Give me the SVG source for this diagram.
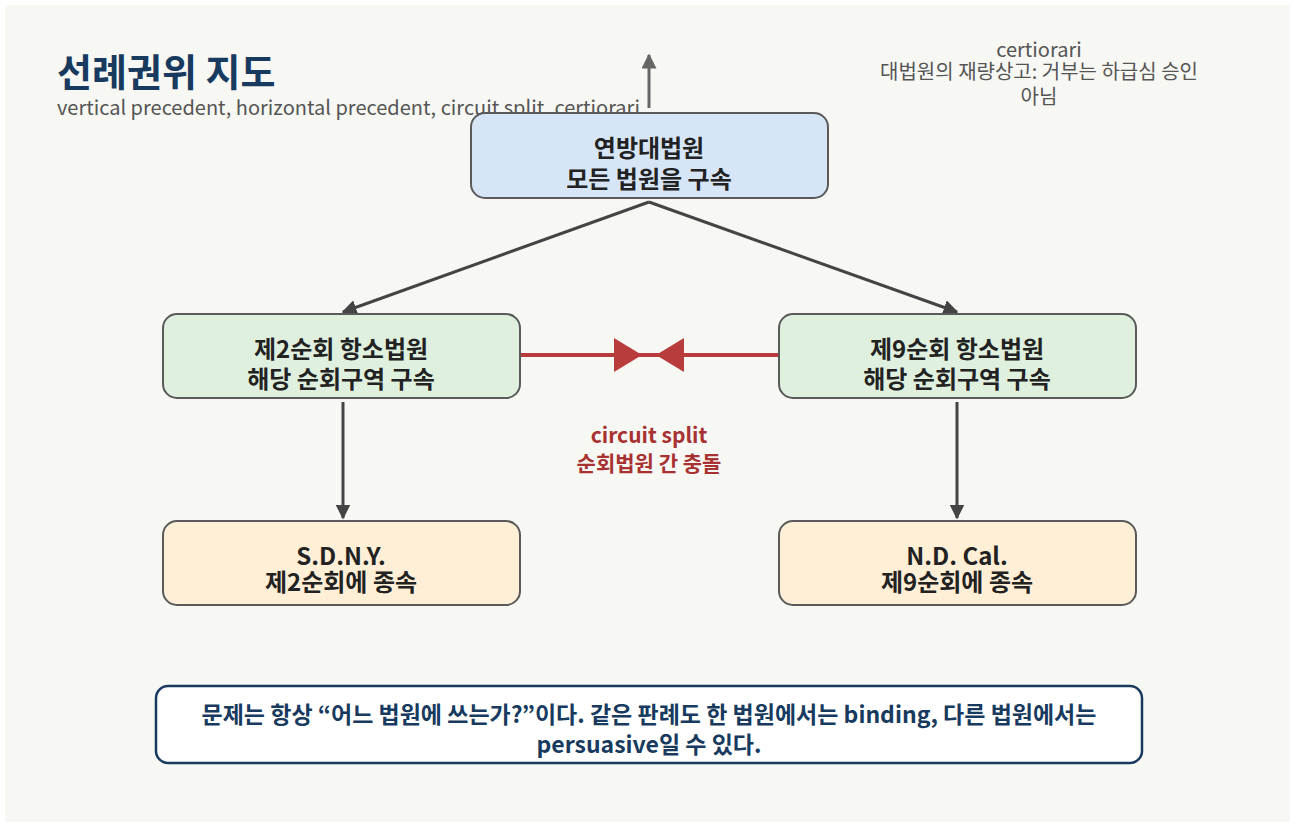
<svg xmlns="http://www.w3.org/2000/svg" width="1294" height="825" viewBox="0 0 1294 825">
<defs>
<style>
.t{font-family:"Noto Sans CJK KR","Noto Sans",sans-serif;}
.nt{font-family:"Noto Sans CJK KR","Noto Sans",sans-serif;font-size:24px;font-weight:700;fill:#222;text-anchor:middle;}
.node{stroke:#5a5a5a;stroke-width:2;}
.conn{stroke:#444;stroke-width:3;fill:none;}
.split{stroke:#b83c3c;stroke-width:4;fill:none;}
</style>
<marker id="ah" viewBox="0 0 10 10" refX="9" refY="5" markerWidth="5" markerHeight="5" orient="auto" markerUnits="strokeWidth">
<path d="M0,0 L10,5 L0,10 Z" fill="#444"/>
</marker>
<marker id="ahg" viewBox="0 0 10 10" refX="9" refY="5" markerWidth="5" markerHeight="5" orient="auto" markerUnits="strokeWidth">
<path d="M0,0 L10,5 L0,10 Z" fill="#666"/>
</marker>
<marker id="ahr" viewBox="0 0 10 10" refX="10" refY="5" markerWidth="7" markerHeight="8.5" orient="auto" markerUnits="strokeWidth" preserveAspectRatio="none">
<path d="M0,0 L10,5 L0,10 Z" fill="#b83c3c"/>
</marker>
</defs>
<rect x="0" y="0" width="1294" height="825" fill="#ffffff"/>
<rect x="5" y="5" width="1285" height="817" fill="#f7f7f3"/>

<g id="title">
<text class="t" x="57" y="86" font-size="38" font-weight="700" fill="#173a5e">선례권위 지도</text>
<text class="t" x="57" y="115" font-size="20" fill="#555">vertical precedent, horizontal precedent, circuit split, certiorari</text>
</g>

<g id="certiorari-note">
<text class="t" x="1039" y="57" font-size="20" fill="#555" text-anchor="middle">certiorari</text>
<text class="t" x="1039" y="79" font-size="20" fill="#555" text-anchor="middle">대법원의 재량상고: 거부는 하급심 승인</text>
<text class="t" x="1039" y="104" font-size="20" fill="#555" text-anchor="middle">아님</text>
</g>

<g id="connectors">
<line x1="649" y1="108" x2="649" y2="55" stroke="#666" stroke-width="3" marker-end="url(#ahg)"/>
<line class="conn" x1="649" y1="202" x2="343" y2="312" marker-end="url(#ah)"/>
<line class="conn" x1="649" y1="202" x2="957" y2="312" marker-end="url(#ah)"/>
<line class="conn" x1="343" y1="402" x2="343" y2="518" marker-end="url(#ah)"/>
<line class="conn" x1="957" y1="402" x2="957" y2="518" marker-end="url(#ah)"/>
<line class="split" x1="520" y1="355" x2="779" y2="355"/>
<line class="split" x1="520" y1="355" x2="642" y2="355" marker-end="url(#ahr)"/>
<line class="split" x1="779" y1="355" x2="656" y2="355" marker-end="url(#ahr)"/>
</g>

<g id="supreme">
<rect class="node" x="471" y="113" width="357" height="85" rx="14" fill="#d6e6f7"/>
<text class="nt" x="649" y="157">연방대법원</text>
<text class="nt" x="649" y="188">모든 법원을 구속</text>
</g>

<g id="circuit2">
<rect class="node" x="163" y="314" width="357" height="84" rx="14" fill="#dff0de"/>
<text class="nt" x="341" y="358">제2순회 항소법원</text>
<text class="nt" x="341" y="388">해당 순회구역 구속</text>
</g>

<g id="circuit9">
<rect class="node" x="779" y="314" width="357" height="84" rx="14" fill="#dff0de"/>
<text class="nt" x="957" y="358">제9순회 항소법원</text>
<text class="nt" x="957" y="388">해당 순회구역 구속</text>
</g>

<g id="split-label">
<text class="t" x="649" y="443" font-size="21" font-weight="700" fill="#a83232" text-anchor="middle">circuit split</text>
<text class="t" x="649" y="471" font-size="21" font-weight="700" fill="#a83232" text-anchor="middle">순회법원 간 충돌</text>
</g>

<g id="sdny">
<rect class="node" x="163" y="521" width="357" height="84" rx="14" fill="#feefd6"/>
<text class="nt" x="341" y="565">S.D.N.Y.</text>
<text class="nt" x="341" y="591">제2순회에 종속</text>
</g>

<g id="ndcal">
<rect class="node" x="779" y="521" width="357" height="84" rx="14" fill="#feefd6"/>
<text class="nt" x="957" y="565">N.D. Cal.</text>
<text class="nt" x="957" y="591">제9순회에 종속</text>
</g>

<g id="note">
<rect x="156" y="686" width="986" height="77" rx="12" fill="#ffffff" stroke="#173a5e" stroke-width="2.5"/>
<text class="t" x="649" y="723" font-size="23" font-weight="700" fill="#173a5e" text-anchor="middle">문제는 항상 “어느 법원에 쓰는가?”이다. 같은 판례도 한 법원에서는 binding, 다른 법원에서는</text>
<text class="t" x="649" y="753" font-size="23" font-weight="700" fill="#173a5e" text-anchor="middle">persuasive일 수 있다.</text>
</g>
</svg>
